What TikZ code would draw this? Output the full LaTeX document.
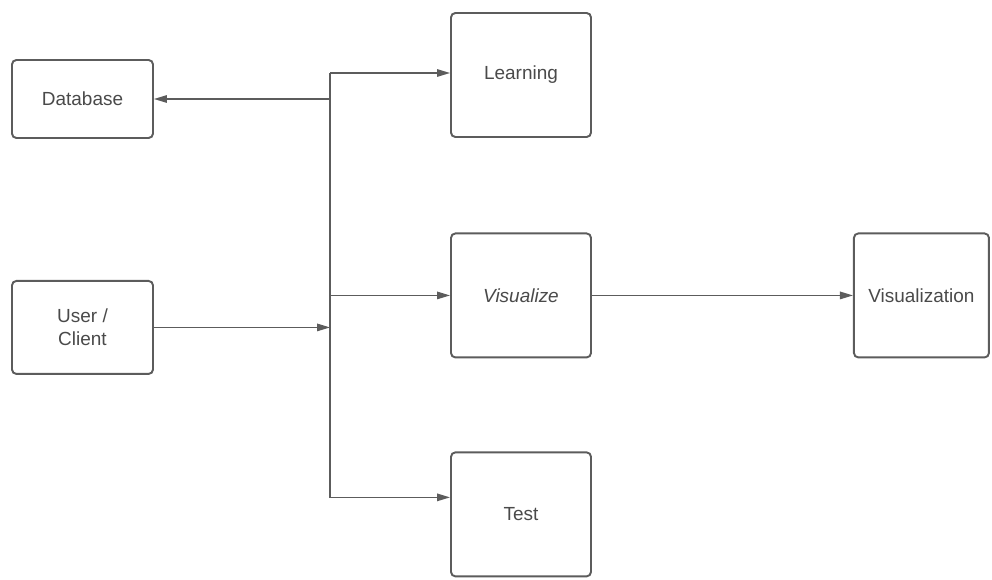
\documentclass[tikz,border=0pt]{standalone}
\usepackage{fontspec}
\setsansfont{Liberation Sans}
\usepackage{tikz}
\usetikzlibrary{arrows.meta,positioning}
\definecolor{lcedge}{HTML}{5C5C5C}
\definecolor{lctext}{HTML}{4A4A4A}

\begin{document}
\begin{tikzpicture}[
  box/.style={draw=lcedge,line width=1.1pt,rounded corners=2.5pt,fill=white,align=center,
    font=\sffamily\fontsize{10.8}{13}\selectfont,text=lctext,inner sep=2pt,
    minimum width=28mm,minimum height=24.8mm},
  arr/.style={-{Triangle[length=2.6mm,width=1.5mm]},line width=0.8pt,lcedge}]
  \useasboundingbox (0,0) rectangle (19.84,-11.58);
  \node[box] (learn) at (10.42,-1.5) {Learning};
  \node[box,below=18.9mm of learn] (vis) {\textit{Visualize}};
  \node[box,below=18.6mm of vis] (test) {Test};
  \node[box,right=52.2mm of vis,minimum width=27mm] (visn) {Visualization};
  \node[box,minimum width=28.2mm,minimum height=15.6mm] (db) at (1.65,-1.98) {Database};
  \node[box,minimum width=28.2mm,minimum height=18.6mm,below=28.2mm of db] (user) {User /\\Client};
  \coordinate (trunk) at (6.6,-1.46);
  \draw[arr] (trunk) -- (trunk -| learn.west);
  \draw[arr] (trunk) |- ([yshift=3.4mm]test.west);
  \draw[arr] (trunk |- db.east) -- (db.east);
  \draw[arr] (user.east) -- (user.east -| trunk);
  \draw[arr] (trunk |- vis.west) -- (vis.west);
  \draw[arr] (vis) -- (visn);
\end{tikzpicture}
\end{document}
